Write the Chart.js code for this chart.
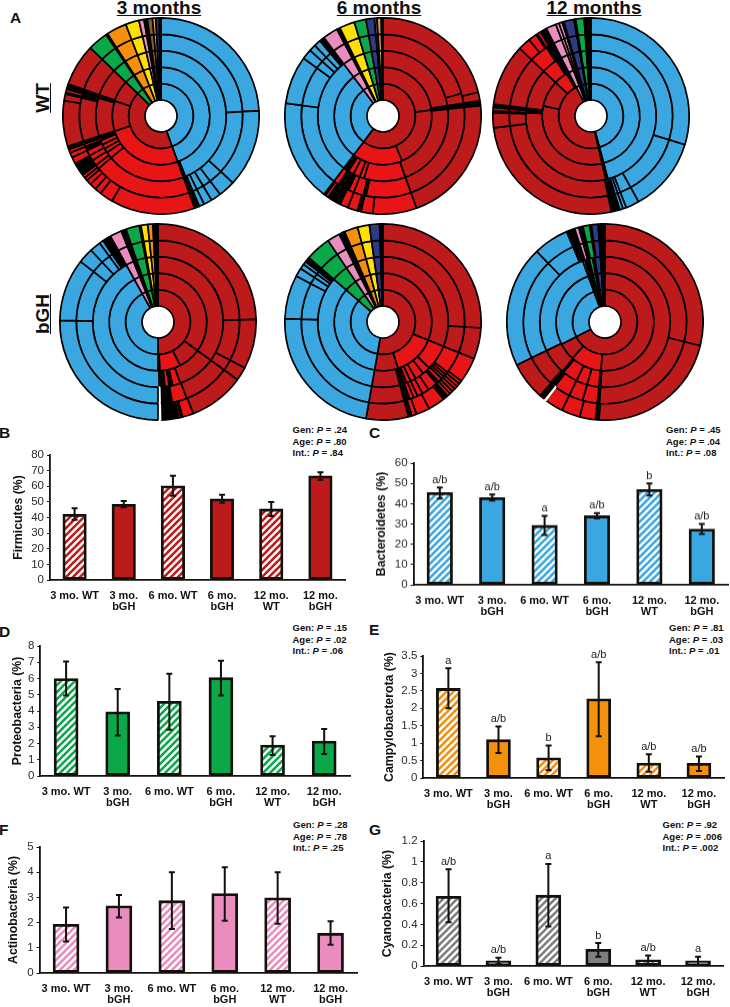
<!DOCTYPE html>
<html>
<head>
<meta charset="utf-8">
<script src="https://cdn.jsdelivr.net/npm/chart.js@4"></script>
<style>
  html, body { margin: 0; padding: 0; background: #fff; }
  body { position: relative; width: 730px; height: 1007px; overflow: hidden; font-family: "Liberation Sans", Arial, sans-serif; color: #111; }
  canvas { position: absolute; }
  .head { position: absolute; width: 120px; text-align: center; font-weight: bold; font-size: 19px; line-height: 20px; text-decoration: underline; white-space: nowrap; }
  .side { position: absolute; width: 60px; text-align: center; font-weight: bold; font-size: 19px; line-height: 20px; text-decoration: underline; transform: rotate(-90deg); }
  .tag { position: absolute; font-weight: bold; font-size: 15.5px; line-height: 16px; }
  .pval { position: absolute; font-weight: bold; font-size: 9.5px; line-height: 11.6px; white-space: nowrap; }
</style>
</head>
<body>
<div class="tag" style="left:10px;top:10px">A</div>
<div class="head" style="left:99px;top:-2px">3 months</div>
<div class="head" style="left:319px;top:-2px">6 months</div>
<div class="head" style="left:534px;top:-2px">12 months</div>
<div class="side" style="left:13px;top:88px">WT</div>
<div class="side" style="left:13px;top:304px">bGH</div>

<div class="tag" style="left:-1px;top:425px">B</div>
<div class="tag" style="left:369px;top:425px">C</div>
<div class="tag" style="left:-1px;top:624px">D</div>
<div class="tag" style="left:369px;top:622px">E</div>
<div class="tag" style="left:-1px;top:822px">F</div>
<div class="tag" style="left:369px;top:822px">G</div>

<div class="pval" style="left:292.5px;top:424px">Gen: <i>P</i> = .24<br>Age: <i>P</i> = .80<br>Int.: <i>P</i> = .84</div>
<div class="pval" style="left:666px;top:424px">Gen: <i>P</i> = .45<br>Age: <i>P</i> = .04<br>Int.: <i>P</i> = .08</div>
<div class="pval" style="left:292.5px;top:622px">Gen: <i>P</i> = .15<br>Age: <i>P</i> = .02<br>Int.: <i>P</i> = .06</div>
<div class="pval" style="left:669px;top:622px">Gen: <i>P</i> = .81<br>Age: <i>P</i> = .03<br>Int.: <i>P</i> = .01</div>
<div class="pval" style="left:293px;top:819px">Gen: <i>P</i> = .28<br>Age: <i>P</i> = .78<br>Int.: <i>P</i> = .25</div>
<div class="pval" style="left:662.5px;top:819px">Gen: <i>P</i> = .92<br>Age: <i>P</i> = .006<br>Int.: <i>P</i> = .002</div>

<script>
'use strict';

// bar panels
const groups = [['3 mo. WT'], ['3 mo.', 'bGH'], ['6 mo. WT'], ['6 mo.', 'bGH'], ['12 mo.', 'WT'], ['12 mo.', 'bGH']];

const firmicutes = [42, 48.5, 60.3, 52, 45.5, 66.7];
const firmicutesLow = [38.5, 46.5, 54, 49.5, 41, 64];
const firmicutesHigh = [46, 50.5, 66.7, 54.5, 50, 69];

const bacteroidetes = [45.5, 43, 29.3, 34, 47, 27.5];
const bacteroidetesLow = [42.5, 41.5, 24.5, 32.7, 44, 25];
const bacteroidetesHigh = [48, 44.5, 34, 35.3, 50, 30];
const bacteroidetesMarks = ['a/b', 'a/b', 'a', 'a/b', 'b', 'a/b'];

const proteobacteria = [6, 3.95, 4.6, 6.05, 1.9, 2.15];
const proteobacteriaLow = [4.95, 2.5, 2.85, 4.95, 1.3, 1.35];
const proteobacteriaHigh = [7.05, 5.35, 6.3, 7.1, 2.45, 2.9];

const campylobacterota = [2.57, 1.1, 0.58, 2.27, 0.43, 0.42];
const campylobacterotaLow = [2, 0.72, 0.22, 1.2, 0.18, 0.2];
const campylobacterotaHigh = [3.15, 1.48, 0.93, 3.32, 0.68, 0.62];
const campylobacterotaMarks = ['a', 'a/b', 'b', 'a/b', 'a/b', 'a/b'];

const actinobacteria = [1.93, 2.67, 2.87, 3.15, 2.98, 1.58];
const actinobacteriaLow = [1.25, 2.2, 1.75, 2.07, 1.95, 1.12];
const actinobacteriaHigh = [2.6, 3.1, 4, 4.2, 4, 2.05];

const cyanobacteria = [0.67, 0.05, 0.68, 0.16, 0.06, 0.05];
const cyanobacteriaLow = [0.42, 0.02, 0.38, 0.09, 0.01, 0.01];
const cyanobacteriaHigh = [0.93, 0.08, 0.98, 0.22, 0.1, 0.09];
const cyanobacteriaMarks = ['a/b', 'a/b', 'a', 'b', 'a/b', 'a'];

// sunburst taxa
const BAC = 'Bacteroidetes', FIR = 'Clostridia', BIL = 'Bacilli', PRO = 'Proteobacteria', CAM = 'Campylobacterota';
const YEL = 'Deferribacteres', ACT = 'Actinobacteria', NAV = 'Verrucomicrobia', BRO = 'Tenericutes', TAN = 'Other';
const GRY = 'Cyanobacteria', BLK = 'Low abundance', GAP = 'Unassigned';

const taxonColors = {
  [BAC]: '#3aa7e0', [FIR]: '#bd1a1c', [BIL]: '#e81416', [PRO]: '#0ba84a', [CAM]: '#f4900c',
  [YEL]: '#ffe000', [ACT]: '#e98dbe', [NAV]: '#2e3a84', [BRO]: '#8b5a2b', [TAN]: '#d9a050',
  [GRY]: '#7f7f7f', [BLK]: '#000000', [GAP]: '#ffffff'
};

// slice sizes in degrees of the circle, clockwise from 12 o'clock, rings listed inner to outer
const wt3Tail = [[PRO, [12, 1]], [CAM, [12]], [YEL, [8]], [ACT, [3]], [BLK, [2]], [BRO, [3]], [TAN, [2]], [NAV, [2]], [BLK, [1]]];
const wt3Rings = [
  [[BAC, [160]], [FIR, [154]], ...wt3Tail],
  [[BAC, [160]], [BIL, [92]], [FIR, [36, 26]], ...wt3Tail],
  [[BAC, [158]], [BLK, [2]], [BIL, [70, 6, 4, 4, 4]], [BLK, [4]], [FIR, [34]], [BLK, [3]], [FIR, [25]], ...wt3Tail],
  [[BAC, [87, 46, 10, 6, 5, 3, 1]], [BLK, [2]], [BIL, [70, 3, 4, 4, 4]], [BLK, [3]], [BIL, [2]], [BLK, [2]], [FIR, [31]], [BLK, [6]], [FIR, [25]], ...wt3Tail],
  [[BAC, [87, 46, 10, 6, 5, 3, 1]], [BLK, [2]], [BIL, [50, 8, 4, 4, 3, 2, 2]], [BLK, [8]], [BIL, [4, 3, 2]], [BLK, [2]], [FIR, [27, 4]], [BLK, [1]], [FIR, [2]], [BLK, [1]], [FIR, [1]], [BLK, [1]], [FIR, [25]], ...wt3Tail]
];

const wt6Tail = [[ACT, [9]], [BLK, [2]], [YEL, [9]], [PRO, [7]], [NAV, [5]], [GRY, [1.5]], [TAN, [2.5]], [BLK, [1]]];
const wt6Rings = [
  [[FIR, [217]], [BAC, [106]], ...wt6Tail],
  [[FIR, [83, 74]], [BIL, [60]], [BAC, [106]], ...wt6Tail],
  [[FIR, [81]], [BLK, [3]], [FIR, [76]], [BIL, [37, 4, 6, 5]], [BLK, [5]], [BAC, [106]], ...wt6Tail],
  [[FIR, [74, 7]], [BLK, [3]], [FIR, [76]], [BIL, [32]], [BLK, [2]], [BIL, [7, 4]], [BLK, [8]], [BIL, [4]], [BAC, [60.5, 28.5, 6, 4, 4]], [BLK, [3]], ...wt6Tail],
  [[FIR, [76, 5]], [BLK, [3]], [FIR, [76]], [BIL, [26, 7]], [BLK, [2]], [BIL, [6, 5]], [BLK, [8]], [BIL, [2]], [BLK, [1]], [BAC, [60.5, 28.5, 6, 4, 4]], [BLK, [3]], ...wt6Tail]
];

const wt12Tail = [[ACT, [6, 2, 2, 1]], [NAV, [6]], [BLK, [1]], [PRO, [5]], [BLK, [1]], [BRO, [1]], [TAN, [1]], [BRO, [1]]];
const wt12Rings = [
  [[BAC, [165]], [BLK, [2]], [FIR, [166]], ...wt12Tail],
  [[BAC, [165]], [BLK, [2]], [FIR, [115, 31.5]], [BIL, [16.5]], [BLK, [3]], ...wt12Tail],
  [[BAC, [165]], [BLK, [2]], [FIR, [106]], [BLK, [4]], [FIR, [36.5]], [BIL, [14.5]], [BLK, [5]], ...wt12Tail],
  [[BAC, [107, 44, 8, 2, 2]], [BLK, [5]], [FIR, [95, 9]], [BLK, [1]], [FIR, [2]], [BLK, [2]], [FIR, [36.5]], [BIL, [13.5]], [BLK, [6]], ...wt12Tail],
  [[BAC, [107, 44, 8, 2, 2]], [BLK, [5]], [FIR, [95, 9]], [BLK, [1]], [FIR, [2]], [BLK, [2]], [FIR, [36.5]], [BIL, [7.5, 5]], [BLK, [1]], [BIL, [2]], [BLK, [4]], ...wt12Tail]
];

const bgh3Tail = [[ACT, [7]], [BLK, [3]], [PRO, [8]], [BLK, [1]], [YEL, [4]], [CAM, [3]], [BLK, [3]]];
const bgh3Rings = [
  [[FIR, [180]], [BAC, [151]], ...bgh3Tail],
  [[FIR, [126, 27]], [BIL, [25]], [BLK, [2]], [BAC, [151]], ...bgh3Tail],
  [[FIR, [126, 34]], [BIL, [7]], [BLK, [3]], [BIL, [4]], [BLK, [5]], [BAC, [152]], ...bgh3Tail],
  [[FIR, [88.5, 29.5, 8, 33.5]], [BIL, [10.5]], [BLK, [8.5]], [GAP, [1.5]], [BAC, [91, 37, 9, 6.5, 2.5]], [BLK, [5]], ...bgh3Tail],
  [[FIR, [88.5, 29.5, 8, 33]], [BIL, [6.6]], [BLK, [1]], [BIL, [1.4]], [BLK, [10.5]], [GAP, [1.5]], [BAC, [91, 37, 9, 6.5, 2.5]], [BLK, [5]], ...bgh3Tail]
];

const bgh6Tail = [[PRO, [15]], [ACT, [7.5]], [BLK, [3.5]], [CAM, [8]], [YEL, [7]], [NAV, [6]], [BLK, [2]]];
const bgh6Rings = [
  [[FIR, [190]], [BAC, [121]], ...bgh6Tail],
  [[FIR, [112]], [BIL, [50]], [FIR, [28]], [BAC, [121]], ...bgh6Tail],
  [[FIR, [112]], [BIL, [23, 7, 8, 5, 4, 2]], [BLK, [4]], [FIR, [25]], [BAC, [121]], ...bgh6Tail],
  [[FIR, [93.5, 18.5]], [BIL, [16, 2, 2, 2, 3]], [BLK, [2]], [BIL, [7, 5, 4, 3, 3]], [BLK, [4]], [FIR, [25]], [BAC, [82, 26, 5, 3, 2]], [BLK, [3]], ...bgh6Tail],
  [[FIR, [93.5, 18.5]], [BIL, [15, 2, 2, 2, 2, 2, 2]], [BLK, [3]], [BIL, [10, 8, 3]], [BLK, [2]], [FIR, [25]], [BAC, [82, 26, 5, 3, 2]], [BLK, [3]], ...bgh6Tail]
];

const bgh12Inner = [[ACT, [2]], [BLK, [4]], [PRO, [3]], [BLK, [2]], [NAV, [5]], [BLK, [4]]];
const bgh12Outer = [[BLK, [5]], [ACT, [2.5]], [BLK, [2.5]], [PRO, [4]], [BLK, [1]], [NAV, [4]], [YEL, [1]], [BLK, [1]], [TAN, [1]], [BLK, [1]]];
const bgh12Rings = [
  [[FIR, [243]], [BAC, [97]], ...bgh12Inner],
  [[FIR, [185]], [BIL, [37]], [FIR, [21]], [BAC, [97]], ...bgh12Inner],
  [[FIR, [184]], [BLK, [1.5]], [BIL, [10.5, 10, 13.5]], [BLK, [1.5]], [FIR, [23]], [BAC, [96]], ...bgh12Inner],
  [[FIR, [104, 80]], [BLK, [1.5]], [BIL, [10.5, 10, 12]], [BLK, [4]], [FIR, [22]], [BAC, [72, 21]], ...bgh12Outer],
  [[FIR, [104, 79.5]], [BLK, [2]], [BIL, [9.5, 11, 11]], [GAP, [1.5]], [BLK, [3]], [FIR, [22.5]], [BAC, [72, 21]], ...bgh12Outer]
];

function addCanvas(left, top, width, height) {
  const canvas = document.createElement('canvas');
  canvas.width = width;
  canvas.height = height;
  canvas.style.left = left + 'px';
  canvas.style.top = top + 'px';
  canvas.style.width = width + 'px';
  canvas.style.height = height + 'px';
  document.body.appendChild(canvas);
  return canvas;
}

function drawSunburst(rings, cx, cy) {
  const radius = 98;
  const datasets = rings.slice().reverse().map((ring) => {
    const data = [], colors = [], borders = [];
    for (const [taxon, sizes] of ring) {
      for (const size of sizes) {
        data.push(size);
        colors.push(taxonColors[taxon]);
        borders.push(taxon === GAP ? '#ffffff' : '#000000');
      }
    }
    return {data: data, backgroundColor: colors, borderColor: borders, borderWidth: 1.7, hoverBorderWidth: 1.7};
  });
  const size = 2 * radius + 2;
  new Chart(addCanvas(cx - size / 2, cy - size / 2, size, size), {
    type: 'doughnut',
    data: {datasets: datasets},
    options: {
      responsive: false,
      animation: false,
      cutout: 16,
      plugins: {legend: {display: false}, tooltip: {enabled: false}}
    }
  });
}

function hatch(color) {
  const tile = document.createElement('canvas');
  tile.width = 7;
  tile.height = 7;
  const ctx = tile.getContext('2d');
  ctx.fillStyle = '#ffffff';
  ctx.fillRect(0, 0, 7, 7);
  ctx.strokeStyle = color;
  ctx.lineWidth = 2.6;
  for (const shift of [-7, 0, 7]) {
    ctx.beginPath();
    ctx.moveTo(shift - 1, 8);
    ctx.lineTo(shift + 8, -1);
    ctx.stroke();
  }
  return ctx.createPattern(tile, 'repeat');
}

const errorBars = {
  id: 'errorBars',
  afterDatasetsDraw(chart) {
    const ds = chart.data.datasets[0];
    const bars = chart.getDatasetMeta(0).data;
    const y = chart.scales.y;
    const ctx = chart.ctx;
    ctx.save();
    ctx.strokeStyle = '#14100c';
    ctx.lineWidth = 2;
    bars.forEach((bar, i) => {
      const lo = y.getPixelForValue(ds.errLow[i]);
      const hi = y.getPixelForValue(ds.errHigh[i]);
      ctx.beginPath();
      ctx.moveTo(bar.x, lo);
      ctx.lineTo(bar.x, hi);
      ctx.moveTo(bar.x - 3, lo);
      ctx.lineTo(bar.x + 3, lo);
      ctx.moveTo(bar.x - 3, hi);
      ctx.lineTo(bar.x + 3, hi);
      ctx.stroke();
      if (ds.marks) {
        ctx.fillStyle = '#222';
        ctx.font = '11px "Liberation Sans"';
        ctx.textAlign = 'center';
        ctx.textBaseline = 'bottom';
        ctx.fillText(ds.marks[i], bar.x, hi - 2);
      }
    });
    ctx.restore();
  }
};

function drawBars(p) {
  const canvasLeft = p.titleX - 7;
  const canvasTop = p.top - 12;
  const below = 38;
  const canvas = addCanvas(canvasLeft, canvasTop, p.right + 2 - canvasLeft, p.bottom + below - canvasTop);
  const stripes = hatch(p.color);
  new Chart(canvas, {
    type: 'bar',
    data: {
      labels: groups,
      datasets: [{
        data: p.values,
        errLow: p.low,
        errHigh: p.high,
        marks: p.marks,
        backgroundColor: p.values.map((v, i) => (i % 2 === 0 ? stripes : p.color)),
        borderColor: '#14100c',
        borderWidth: 2.8,
        borderSkipped: false,
        barThickness: p.bar
      }]
    },
    options: {
      responsive: false,
      animation: false,
      layout: {padding: {top: 12, right: 2, left: 0, bottom: 0}},
      plugins: {legend: {display: false}, tooltip: {enabled: false}},
      scales: {
        x: {
          afterFit: (scale) => { scale.height = below; },
          grid: {display: false},
          border: {color: '#14100c', width: 1.8},
          ticks: {
            autoSkip: false,
            maxRotation: 0,
            padding: 2,
            color: '#111',
            font: {family: 'Liberation Sans', size: 11, weight: 'bold', lineHeight: 1.05}
          }
        },
        y: {
          min: 0,
          max: p.max,
          afterFit: (scale) => { scale.width = p.left - canvasLeft; },
          grid: {drawOnChartArea: false, tickLength: 3, tickColor: '#14100c'},
          border: {color: '#14100c', width: 1.8},
          title: {
            display: true,
            text: p.title,
            color: '#111',
            padding: 0,
            font: {family: 'Liberation Sans', size: 12.3, weight: 'bold', lineHeight: 1.2}
          },
          ticks: {
            autoSkip: false,
            stepSize: p.step,
            padding: 3,
            color: '#2b2b2b',
            font: {family: 'Liberation Sans', size: 11.5},
            callback: (v) => String(+v.toFixed(1))
          }
        }
      }
    },
    plugins: [errorBars]
  });
}

drawSunburst(wt3Rings, 160.5, 116);
drawSunburst(wt6Rings, 383, 116);
drawSunburst(wt12Rings, 590.7, 116);
drawSunburst(bgh3Rings, 157.7, 321.7);
drawSunburst(bgh6Rings, 383, 321.7);
drawSunburst(bgh12Rings, 605, 322.3);

drawBars({title: 'Firmicutes (%)', values: firmicutes, low: firmicutesLow, high: firmicutesHigh, color: '#bd1a1c',
  left: 50, right: 345, top: 455, bottom: 580, titleX: 18, max: 80, step: 10, bar: 23.5});
drawBars({title: 'Bacteroidetes (%)', values: bacteroidetes, low: bacteroidetesLow, high: bacteroidetesHigh, marks: bacteroidetesMarks, color: '#3aa7e0',
  left: 413.3, right: 728, top: 463.3, bottom: 585, titleX: 380.7, max: 60, step: 10, bar: 25.5});
drawBars({title: 'Proteobacteria (%)', values: proteobacteria, low: proteobacteriaLow, high: proteobacteriaHigh, color: '#0ba84a',
  left: 40, right: 350, top: 645.7, bottom: 775.7, titleX: 16.7, max: 8, step: 1, bar: 24});
drawBars({title: 'Campylobacterota (%)', values: campylobacterota, low: campylobacterotaLow, high: campylobacterotaHigh, marks: campylobacterotaMarks, color: '#f4900c',
  left: 423.3, right: 724, top: 655.7, bottom: 778.3, titleX: 389, max: 3.5, step: 0.5, bar: 24});
drawBars({title: 'Actinobacteria (%)', values: actinobacteria, low: actinobacteriaLow, high: actinobacteriaHigh, color: '#e98dbe',
  left: 39.3, right: 356.7, top: 846.7, bottom: 973.3, titleX: 12.7, max: 5, step: 1, bar: 26});
drawBars({title: 'Cyanobacteria (%)', values: cyanobacteria, low: cyanobacteriaLow, high: cyanobacteriaHigh, marks: cyanobacteriaMarks, color: '#7f7f7f',
  left: 423.3, right: 723.3, top: 841, bottom: 966, titleX: 386.7, max: 1.2, step: 0.2, bar: 25});
</script>
</body>
</html>
